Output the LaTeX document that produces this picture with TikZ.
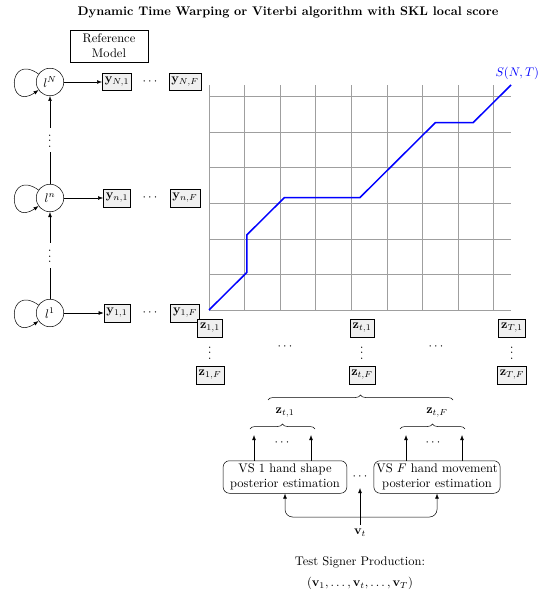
\documentclass[tikz,border=0pt]{standalone}
\usepackage{amsmath}
\usetikzlibrary{positioning,decorations.pathreplacing,arrows.meta}
\begin{document}
\begin{tikzpicture}[x=0.8pt, y=0.8pt, >={Latex[length=4pt,width=3pt]}]
  % Define node and connector styles
  \tikzstyle{state} = [draw, circle, minimum size=22pt, inner sep=0pt]
  \tikzstyle{vecbox} = [draw, fill=gray!12, inner sep=2pt, minimum height=14pt]
  \tikzstyle{estbox} = [draw, rounded corners=5pt, align=center,
  inner sep=2pt, minimum width=99pt, minimum height=26pt]
  \tikzstyle{selfloop} = [loop, out=145, in=215, looseness=1, min distance=31pt]
  \tikzstyle{dotsnode} = [inner sep=0pt, rotate=90]
  \tikzstyle{vdotsbox} = [dotsnode, fill=white, inner xsep=3pt]
  \tikzstyle{bracestyle} = [decorate, decoration={brace, amplitude=4pt}]

  \useasboundingbox (0,0) rectangle (549,-599);

  \node (title) at (288,-12) {\bfseries Dynamic Time Warping or Viterbi algorithm with SKL local score};

  % Reference model (left column)
  \node[draw, align=center, minimum width=62pt, minimum height=25pt] (refmodel) at (109,-46) {Reference\\Model};

  \node[state] (lN) at (50,-82) {$l^N$};
  \node[state] (ln) at (50,-198) {$l^n$};
  \node[state] (l1) at (50,-313) {$l^1$};

  \path[->] (lN) edge[selfloop] (lN);
  \path[->] (ln) edge[selfloop] (ln);
  \path[->] (l1) edge[selfloop] (l1);

  \draw[->] (l1) -- (ln) node[midway, vdotsbox] (dots1n) {$\cdots$};
  \draw[->] (ln) -- (lN) node[midway, vdotsbox] (dotsnN) {$\cdots$};

  \node[vecbox] (yN1) at (117,-82) {$\mathbf{y}_{N,1}$};
  \node (yNdots) at (151,-82) {$\cdots$};
  \node[vecbox] (yNF) at (185,-82) {$\mathbf{y}_{N,F}$};
  \node[vecbox] (yn1) at (117,-198) {$\mathbf{y}_{n,1}$};
  \node (yndots) at (151,-198) {$\cdots$};
  \node[vecbox] (ynF) at (185,-198) {$\mathbf{y}_{n,F}$};
  \node[vecbox] (y11) at (117,-313) {$\mathbf{y}_{1,1}$};
  \node (y1dots) at (151,-313) {$\cdots$};
  \node[vecbox] (y1F) at (185,-313) {$\mathbf{y}_{1,F}$};

  \draw[->] (lN) -- (yN1);
  \draw[->] (ln) -- (yn1);
  \draw[->] (l1) -- (y11);

  % DTW grid and best path
  \begin{scope}[shift={(209,-310)}, x=30.2pt, y=30pt]
    \draw[gray!75] (0,0) grid (8,6);
    \draw[blue, line width=1.2pt] (0,0) -- (1,1) -- (1,2) -- (2,3) -- (4,3)
    -- (6,5) -- (7,5) -- (8,6);
    \coordinate (gridNT) at (8,6);
  \end{scope}
  \node[blue, anchor=south, xshift=5pt, yshift=1pt] (scoreNT) at (gridNT) {$S(N,T)$};

  % Test observations
  \node[vecbox] (z11) at (210,-328) {$\mathbf{z}_{1,1}$};
  \node[dotsnode] (z1dots) at (210,-352) {$\cdots$};
  \node[vecbox] (z1F) at (210,-375) {$\mathbf{z}_{1,F}$};
  \node[vecbox] (zt1) at (362,-328) {$\mathbf{z}_{t,1}$};
  \node[dotsnode] (ztdots) at (362,-352) {$\cdots$};
  \node[vecbox] (ztF) at (362,-375) {$\mathbf{z}_{t,F}$};
  \node[vecbox] (zT1) at (512,-328) {$\mathbf{z}_{T,1}$};
  \node[dotsnode] (zTdots) at (512,-352) {$\cdots$};
  \node[vecbox] (zTF) at (512,-375) {$\mathbf{z}_{T,F}$};
  \node (zhdotsA) at (286,-347) {$\cdots$};
  \node (zhdotsB) at (437,-347) {$\cdots$};

  % Feature extraction for frame t
  \coordinate (bigL) at (268,-400);
  \coordinate (bigR) at (453,-400);
  \draw[bracestyle] (bigL) -- (bigR);

  \node (labzt1) at (285,-413) {$\mathbf{z}_{t,1}$};
  \node (labztF) at (437,-413) {$\mathbf{z}_{t,F}$};

  \coordinate (smlL1) at (250,-429);
  \coordinate (smlR1) at (315,-429);
  \coordinate (smlL2) at (400,-429);
  \coordinate (smlR2) at (465,-429);
  \draw[bracestyle] (smlL1) -- (smlR1);
  \draw[bracestyle] (smlL2) -- (smlR2);

  \node[estbox] (vs1) at (285,-477) {VS 1 hand shape\\posterior estimation};
  \node[estbox] (vsF) at (437,-477) {VS $F$ hand movement\\posterior estimation};
  \node (vsdots) at (361,-477) {$\cdots$};

  \coordinate (tipA) at (254,-435);
  \coordinate (tipB) at (311,-435);
  \coordinate (tipC) at (406,-435);
  \coordinate (tipD) at (462,-435);
  \draw[->] (vs1.north -| tipA) -- (tipA);
  \draw[->] (vs1.north -| tipB) -- (tipB);
  \draw[->] (vsF.north -| tipC) -- (tipC);
  \draw[->] (vsF.north -| tipD) -- (tipD);
  \node (tipdotsA) at (283,-443) {$\cdots$};
  \node (tipdotsB) at (434,-443) {$\cdots$};

  \node (vt) at (360,-533) {$\mathbf{v}_t$};
  \coordinate (vtip) at (360,-488);
  \coordinate (vbar) at (360,-517);
  \draw[->] (vt.north) -- (vtip);
  \draw[->, rounded corners=6pt] (vbar) -| (vs1.south);
  \draw[->, rounded corners=6pt] (vbar) -| (vsF.south);

  \node (testsign) at (360,-562) {Test Signer Production:};
  \node (vseq) at (360,-583) {$(\mathbf{v}_1,\ldots,\mathbf{v}_t,\ldots,\mathbf{v}_T)$};
\end{tikzpicture}
\end{document}
